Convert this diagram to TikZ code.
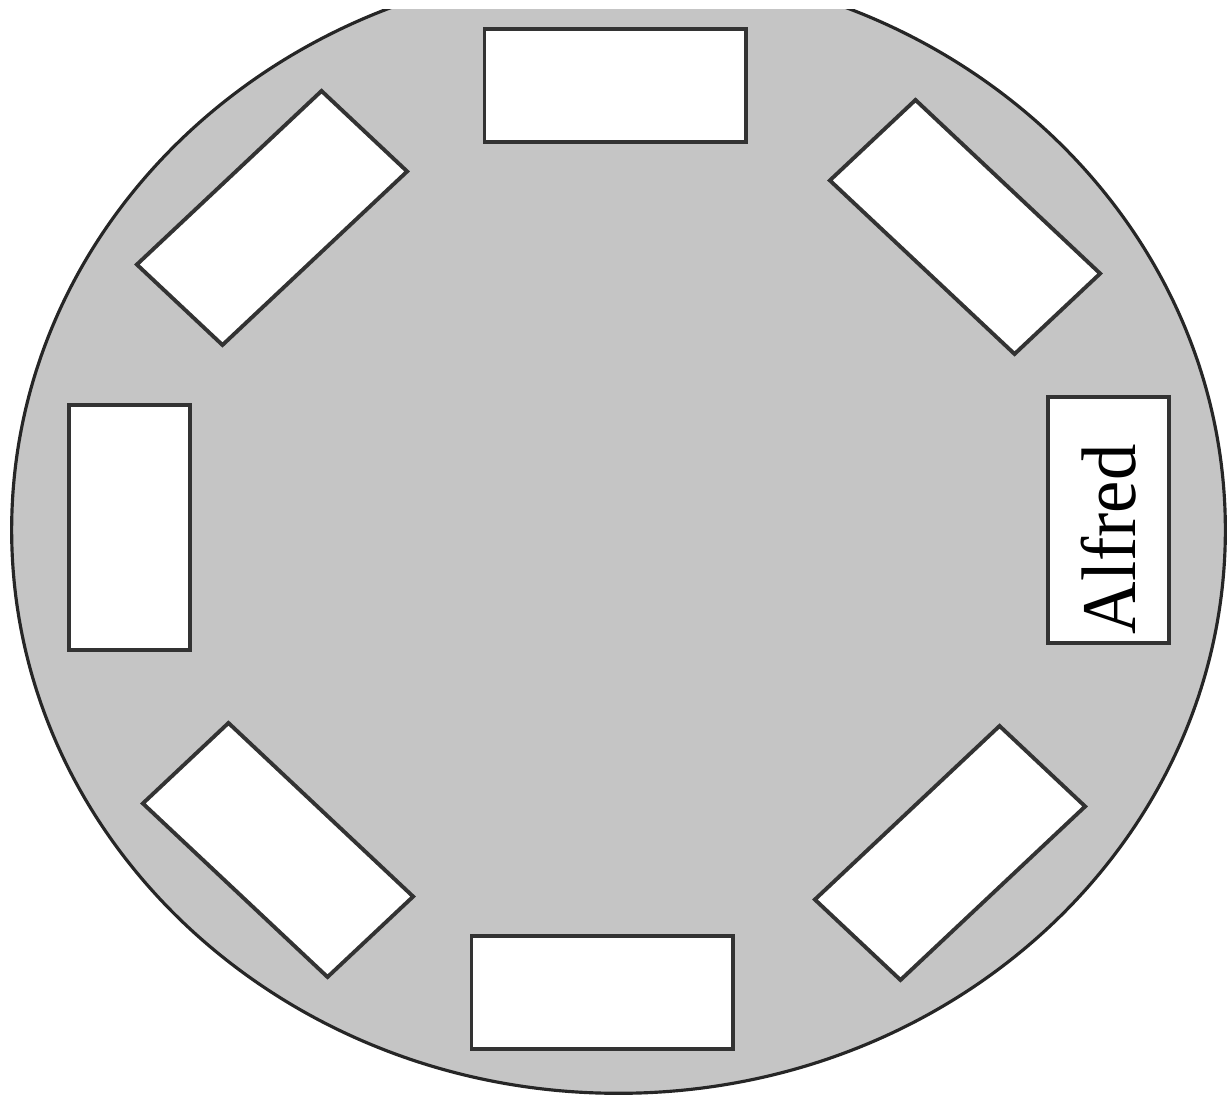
\documentclass[tikz,border=0pt]{standalone}
\usepackage{fontspec}
\setmainfont{Liberation Serif}
\usetikzlibrary{positioning}
\definecolor{tablegray}{RGB}{197,197,197}

\begin{document}
\begin{tikzpicture}[x=0.01cm, y=0.01cm,
    table/.style={fill=tablegray, draw=black!85, line width=0.9pt},
    seat/.style={rectangle, draw=black!80, line width=1.1pt, fill=white, minimum width=2.61cm, minimum height=1.21cm, inner sep=0pt, yscale=0.94}
]
\useasboundingbox (0,0) rectangle (1231,1095);
\clip (0,0) rectangle (1231,1085);
\draw[table] (618.5,565) ellipse [x radius=6.065cm, y radius=5.63cm];
% empty places round the table
\foreach \n/\x/\y/\a in {top/615/1009.5/0, ur/965/868/-45, lr/950/242/45, bottom/602/102.5/0, ll/278/245/-45, left/129.5/567.5/90, ul/272/877/45}
  \node[seat, rotate=\a] (seat-\n) at (\x,\y) {};
\node[seat, rotate=90, inner xsep=0.09cm, text width=2.43cm, align=left, font=\fontsize{22}{26}\selectfont] (alfred) at (1108.5,575) {Alfred};
\end{tikzpicture}
\end{document}
